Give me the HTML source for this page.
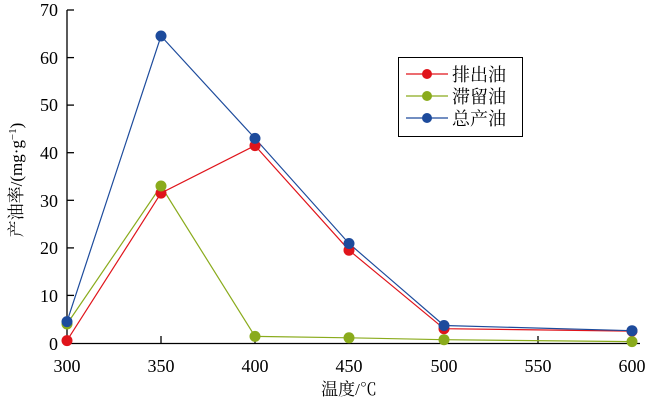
<!DOCTYPE html>
<html><head><meta charset="utf-8"><style>body{margin:0;background:#fff}svg{display:block}text{font-family:"Liberation Serif","Noto Serif CJK SC",serif;fill:#000}</style></head><body>
<svg width="650" height="401" viewBox="0 0 650 401">
<g stroke="#000" stroke-width="1.3" fill="none">
<line x1="67" y1="10" x2="67" y2="344"/>
<line x1="66" y1="343.5" x2="640" y2="343.5"/>
<line x1="161" y1="343" x2="161" y2="336"/><line x1="255" y1="343" x2="255" y2="336"/><line x1="349" y1="343" x2="349" y2="336"/><line x1="444" y1="343" x2="444" y2="336"/><line x1="538" y1="343" x2="538" y2="336"/><line x1="632" y1="343" x2="632" y2="336"/>
<line x1="67" y1="295.4" x2="74" y2="295.4"/><line x1="67" y1="247.9" x2="74" y2="247.9"/><line x1="67" y1="200.3" x2="74" y2="200.3"/><line x1="67" y1="152.7" x2="74" y2="152.7"/><line x1="67" y1="105.1" x2="74" y2="105.1"/><line x1="67" y1="57.6" x2="74" y2="57.6"/><line x1="67" y1="10" x2="74" y2="10"/>
</g>
<g font-size="18" text-anchor="end">
<text x="58" y="350">0</text><text x="58" y="302">10</text><text x="58" y="254">20</text><text x="58" y="207">30</text><text x="58" y="159">40</text><text x="58" y="111">50</text><text x="58" y="64">60</text><text x="58" y="16">70</text>
</g>
<g font-size="18" text-anchor="middle">
<text x="67" y="372">300</text><text x="161" y="372">350</text><text x="255" y="372">400</text><text x="349" y="372">450</text><text x="444" y="372">500</text><text x="538" y="372">550</text><text x="632" y="372">600</text>
<text x="349" y="395" font-size="17">温度/℃</text>
<text transform="translate(22,180) rotate(-90)" font-size="17">产油率/(mg·g<tspan dy="-6" font-size="11">−1</tspan><tspan dy="6">)</tspan></text>
</g>
<polyline fill="none" stroke="#e0141b" stroke-width="1.2" points="67,340.6 161,193.1 255,145.6 349,250.2 444,328.7 632,331.1"/>
<polyline fill="none" stroke="#8aab1c" stroke-width="1.2" points="67,324 161,186 255,336.4 349,337.8 444,339.7 632,341.6"/>
<polyline fill="none" stroke="#1d4b9c" stroke-width="1.2" points="67,321.6 161,36 255,138.4 349,243.5 444,325.5 632,330.7"/>
<g fill="#e0141b"><circle cx="67" cy="340.6" r="5.5"/><circle cx="161" cy="193.1" r="5.5"/><circle cx="255" cy="145.6" r="5.5"/><circle cx="349" cy="250.2" r="5.5"/><circle cx="444" cy="328.7" r="5.5"/><circle cx="632" cy="331.1" r="5.5"/></g>
<g fill="#8aab1c"><circle cx="67" cy="324" r="5.5"/><circle cx="161" cy="186" r="5.5"/><circle cx="255" cy="336.4" r="5.5"/><circle cx="349" cy="337.8" r="5.5"/><circle cx="444" cy="339.7" r="5.5"/><circle cx="632" cy="341.6" r="5.5"/></g>
<g fill="#1d4b9c"><circle cx="67" cy="321.6" r="5.5"/><circle cx="161" cy="36" r="5.5"/><circle cx="255" cy="138.4" r="5.5"/><circle cx="349" cy="243.5" r="5.5"/><circle cx="444" cy="325.5" r="5.5"/><circle cx="632" cy="330.7" r="5.5"/></g>
<rect x="398.5" y="57.5" width="124" height="79" fill="#fff" stroke="#000" stroke-width="1"/>
<line x1="406" y1="74" x2="448" y2="74" stroke="#e0141b" stroke-width="1.2"/><circle cx="427" cy="74" r="5" fill="#e0141b"/>
<line x1="406" y1="96" x2="448" y2="96" stroke="#8aab1c" stroke-width="1.2"/><circle cx="427" cy="96" r="5" fill="#8aab1c"/>
<line x1="406" y1="118" x2="448" y2="118" stroke="#1d4b9c" stroke-width="1.2"/><circle cx="427" cy="118" r="5" fill="#1d4b9c"/>
<g font-size="18"><text x="452" y="81">排出油</text><text x="452" y="103">滞留油</text><text x="452" y="125">总产油</text></g>
</svg>
</body></html>
